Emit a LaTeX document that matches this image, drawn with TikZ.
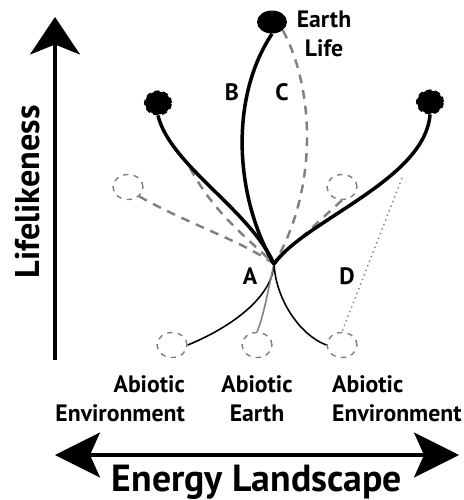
\documentclass[tikz,border=0pt]{standalone}
\usepackage{fontspec}
\setmainfont{PT Sans}
\usepackage{tikz}
\usetikzlibrary{arrows.meta,shapes.geometric}

\begin{document}
\begin{tikzpicture}[x=0.02cm,y=-0.02cm,
	site/.style={draw=gray,dashed,thick,ellipse,minimum width=0.6cm,minimum height=0.5cm,inner sep=0pt},
	alien/.style={draw=black,densely dashed,very thick,fill=black,ellipse,minimum width=0.52cm,minimum height=0.46cm,inner sep=0pt},
	earthlife/.style={fill=black,ellipse,minimum width=0.6cm,minimum height=0.46cm,inner sep=0pt},
	path/.style={line width=2pt},
	seed/.style={line width=0.9pt},
	alt/.style={gray,dashed,line width=1.4pt,dash pattern=on 5pt off 4pt},
	tag/.style={font=\bfseries\fontsize{13.5}{16.5}\selectfont},
	axis/.style={line width=1.8pt,-{Stealth[length=0.75cm,width=1cm,inset=0.2cm]}}]
	\useasboundingbox (0,0) rectangle (463,500);
	% sites and endpoints
	\node[site] (envL) at (128,187) {};
	\node[site] (envR) at (342,187) {};
	\node[site] (abL) at (172,345) {};
	\node[site] (abE) at (257,345) {};
	\node[site] (abR) at (342,345) {};
	\node[earthlife] (earth) at (272,22) {};
	\node[alien] (lifeL) at (158,103) {};
	\node[alien] (lifeR) at (430,102) {};
	\coordinate (A) at (274,264);
	\coordinate (split) at (190,168);
	\coordinate (join) at (303,236);
	\coordinate (dstart) at (402,178);
	% alternative routes
	\draw[alt] (earth.south east) .. controls (315,90) and (318,190) .. (A);
	\draw[alt] (envL.south east) .. controls (190,225) and (240,240) .. (A);
	\draw[alt] (split) .. controls (215,215) and (250,240) .. (A);
	\draw[alt] (envR.south) -- (join);
	\draw[gray,dotted,line width=0.8pt] (dstart) -- (abR.north);
	% origins
	\draw[seed] (A) .. controls (272,300) and (225,330) .. (abL.east);
	\draw[seed,gray] (A) .. controls (268,290) and (264,315) .. (abE.north);
	\draw[seed] (A) .. controls (276,300) and (300,335) .. (abR.west);
	% paths to life
	\draw[path] (earth.south) .. controls (228,100) and (236,200) .. (A);
	\draw[path] (lifeL.south) .. controls (170,165) and (250,210) .. (A);
	\draw[path] (A) .. controls (305,220) and (425,180) .. (lifeR.south);
	% labels
	\node[tag] (la) at (250,276) {A};
	\node[tag] (lb) at (232,92) {B};
	\node[tag] (lc) at (282,92) {C};
	\node[tag] (ld) at (347,276) {D};
	\node[tag,align=center] (learth) at (324,34) {Earth\\Life};
	\node[tag,align=right,anchor=north east] (lenvL) at (191,369) {Abiotic\\Environment};
	\node[tag,align=center,anchor=north] (lenvE) at (257,369) {Abiotic\\Earth};
	\node[tag,align=left,anchor=north west] (lenvR) at (326,369) {Abiotic\\Environment};
	% axes
	\coordinate (ybot) at (55,360);
	\coordinate (ytop) at (55,17);
	\coordinate (xl) at (55,455);
	\coordinate (xr) at (459,455);
	\draw[axis] (ybot) -- (ytop);
	\draw[axis,{Stealth[length=0.9cm,width=0.9cm,inset=0.2cm]}-{Stealth[length=0.9cm,width=0.9cm,inset=0.2cm]}] (xl) -- (xr);
	\node[font=\bfseries\fontsize{19.5}{22}\selectfont,rotate=90] (ylab) at (28,192) {Lifelikeness};
	\node[font=\bfseries\fontsize{21.5}{24}\selectfont] (xlab) at (257,482) {Energy Landscape};
\end{tikzpicture}
\end{document}
